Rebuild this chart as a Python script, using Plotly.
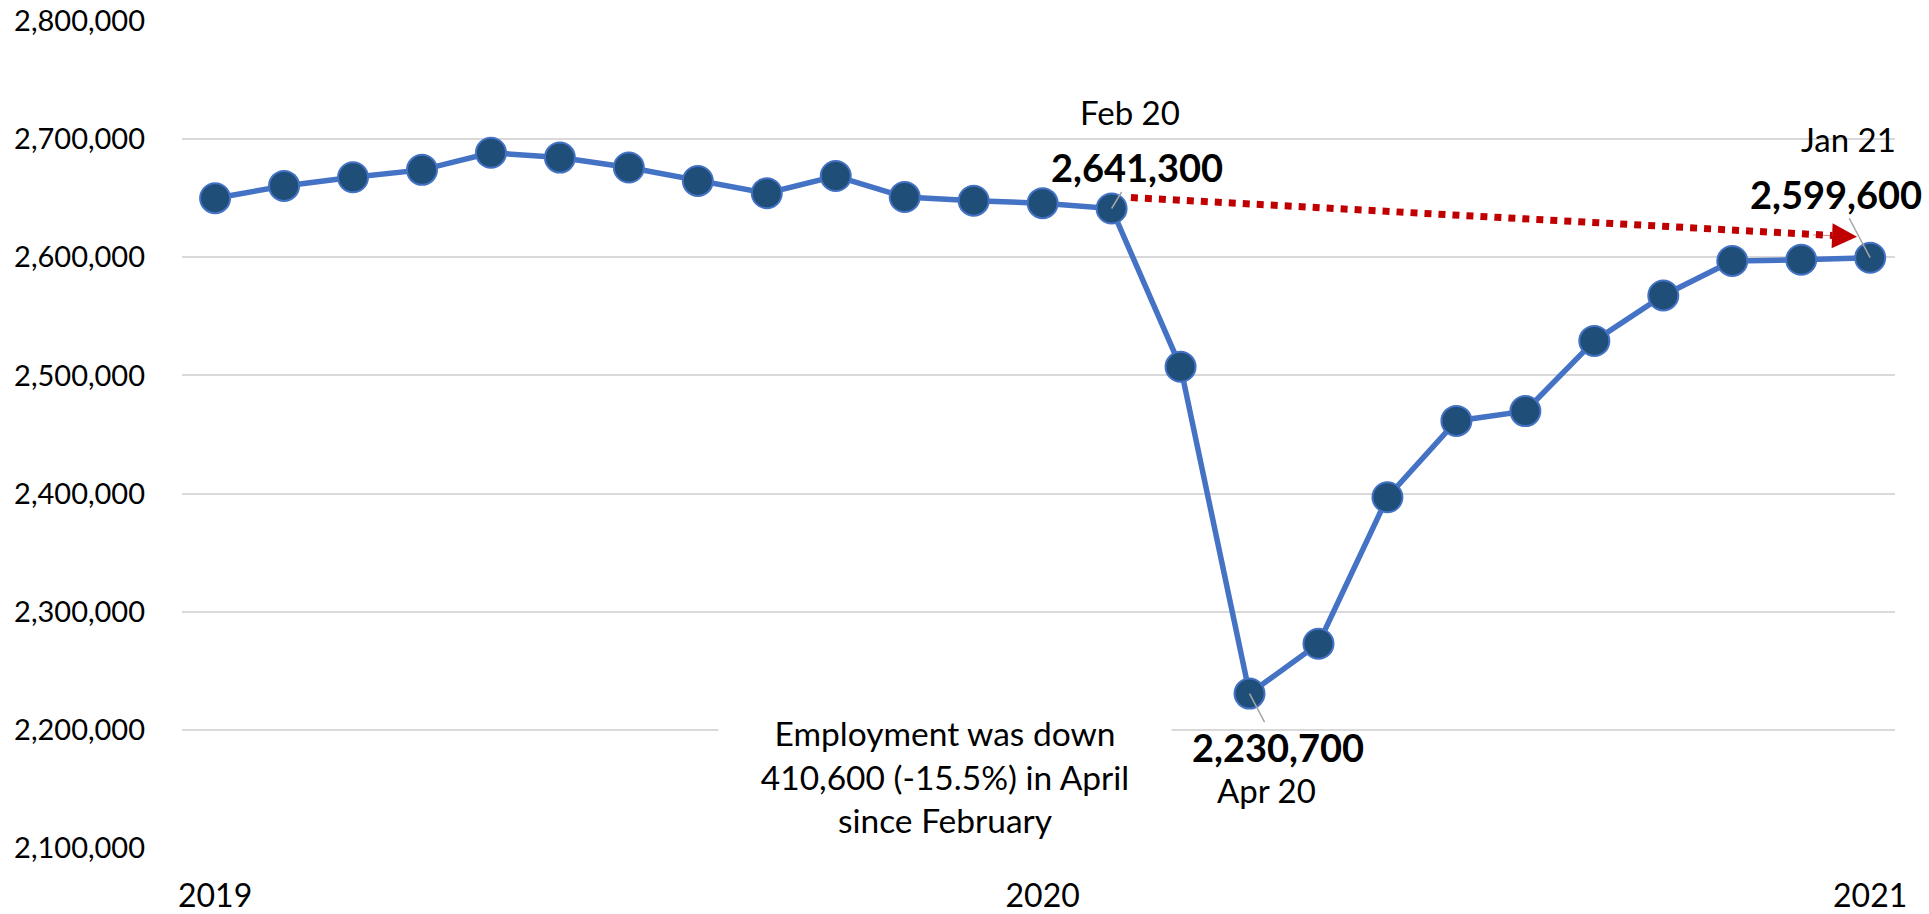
import plotly.graph_objects as go

months = ["Jan 19", "Feb 19", "Mar 19", "Apr 19", "May 19", "Jun 19", "Jul 19", "Aug 19",
          "Sep 19", "Oct 19", "Nov 19", "Dec 19", "Jan 20", "Feb 20", "Mar 20", "Apr 20",
          "May 20", "Jun 20", "Jul 20", "Aug 20", "Sep 20", "Oct 20", "Nov 20", "Dec 20", "Jan 21"]
employment = [2650000, 2660400, 2667700, 2674000, 2688500, 2684400, 2676000, 2664600,
              2654200, 2668800, 2651000, 2647900, 2645800, 2641300, 2507300, 2230700,
              2272900, 2396900, 2461500, 2469800, 2529200, 2567700, 2596900, 2597900, 2599600]
year_ticks = ["2019", "2020", "2021"]
y_ticks = [2100000, 2200000, 2300000, 2400000, 2500000, 2600000, 2700000, 2800000]
note_text = "Employment was down<br>410,600 (-15.5%) in April<br>since February"

x = list(range(len(months)))
i_feb = months.index("Feb 20")
i_apr = months.index("Apr 20")
i_jan = months.index("Jan 21")

FONT = "Lato, 'Open Sans', sans-serif"

fig = go.Figure()
fig.add_trace(go.Scatter(
    x=x, y=employment, mode="lines+markers",
    line=dict(color="#4472C4", width=5.5),
    marker=dict(size=30, color="#1F4E79", line=dict(color="#4472C4", width=2)),
    hoverinfo="skip", showlegend=False,
))

# dotted red comparison arrow (Feb 20 -> Jan 21)
arr_start = (i_feb + 0.28, employment[i_feb] + 9300)
arr_base = (i_jan - 0.55, employment[i_jan] + 18900)
arr_tip = (i_jan - 0.19, employment[i_jan] + 17800)
fig.add_trace(go.Scatter(
    x=[arr_start[0], arr_base[0]], y=[arr_start[1], arr_base[1]], mode="lines",
    line=dict(color="#C00000", width=7, dash="dot"),
    hoverinfo="skip", showlegend=False,
))

annotations = []
annotations.append(dict(
    x=arr_tip[0], y=arr_tip[1], ax=arr_base[0] - 0.3, ay=arr_base[1] + 500,
    xref="x", yref="y", axref="x", ayref="y", text="", showarrow=True,
    arrowhead=2, arrowsize=10, arrowwidth=0.5, arrowcolor="#C00000",
))

def value_label(i, ax, ay):
    return dict(x=x[i], y=employment[i], xref="x", yref="y",
                text=f"<b>{employment[i]:,}</b>", showarrow=True, arrowhead=0,
                arrowwidth=1.5, arrowcolor="#A6A6A6", ax=ax, ay=ay,
                font=dict(family=FONT, size=38, color="black"))

def date_label(i, xs, ys):
    return dict(x=x[i], y=employment[i], xref="x", yref="y", text=months[i],
                showarrow=False, xshift=xs, yshift=ys,
                font=dict(family=FONT, size=33, color="black"))

annotations += [
    value_label(i_feb, 25, -41), date_label(i_feb, 18, 96),
    value_label(i_jan, -34, -64), date_label(i_jan, -22, 119),
    value_label(i_apr, 28, 53), date_label(i_apr, 17, -96),
]

annotations.append(dict(
    x=0.4454, y=0.0859, xref="paper", yref="paper", xanchor="center", yanchor="middle",
    text=note_text, showarrow=False,
    bgcolor="white", borderpad=14, width=424, align="center",
    font=dict(family=FONT, size=33.5, color="black"),
))

fig.update_layout(
    width=1929, height=914,
    margin=dict(l=182, r=34, t=21, b=66),
    paper_bgcolor="white", plot_bgcolor="white",
    annotations=annotations,
    xaxis=dict(range=[-0.48, 24.36], tickvals=[0, 12, 24], ticktext=year_ticks,
               showgrid=False, zeroline=False, showline=False, automargin=False,
               ticks="", ticklabelstandoff=26,
               tickfont=dict(family=FONT, size=32, color="black")),
    yaxis=dict(range=[2100000, 2800000], tickvals=y_ticks, tickformat=",d",
               showgrid=True, gridcolor="#D9D9D9", gridwidth=2, automargin=False,
               zeroline=False, showline=False, ticks="", ticklabelstandoff=36,
               tickfont=dict(family=FONT, size=29, color="black")),
)

fig.write_html("out.html", config={"displayModeBar": False},
               post_script="document.body.style.margin='0px';document.body.style.overflow='hidden';")
